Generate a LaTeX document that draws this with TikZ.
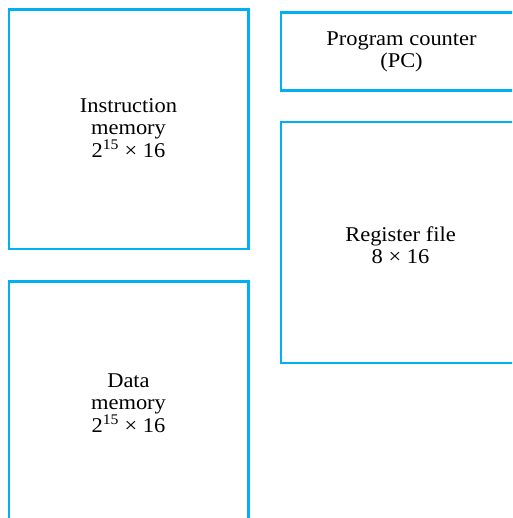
\documentclass[tikz,border=0pt]{standalone}
\usepackage{fontspec}
\setmainfont{Liberation Serif}[FakeStretch=1.07]
\definecolor{boxblue}{RGB}{0,176,240}
\tikzset{
  unitbox/.style={draw=boxblue, line width=2.4pt},
  lbl/.style={align=center, font=\fontsize{21}{22.5}\selectfont, inner sep=0pt}
}
\begin{document}
\begin{tikzpicture}[x=1pt,y=-1pt]
\useasboundingbox (0,0) rectangle (512,518);
\clip (0,0) rectangle (512,518);
\fill[white] (0,0) rectangle (512,518);
\draw[unitbox] (9,9.5) rectangle (248.5,249);
\draw[unitbox] (9,281.5) rectangle (248.5,540);
\draw[unitbox] (281,12.5) rectangle (530,90.5);
\draw[unitbox] (281,122.3) rectangle (530,363);
\node[lbl] (im) at (128.5,128) {Instruction\\memory\\2\textsuperscript{15} × 16};
\node[lbl] (dm) at (128.5,403) {Data\\memory\\2\textsuperscript{15} × 16};
\node[lbl] (pc) at (401.5,52) {Program counter\\(PC)};
\node[lbl] (rf) at (400.5,245) {Register file\\8 × 16};
\end{tikzpicture}
\end{document}
